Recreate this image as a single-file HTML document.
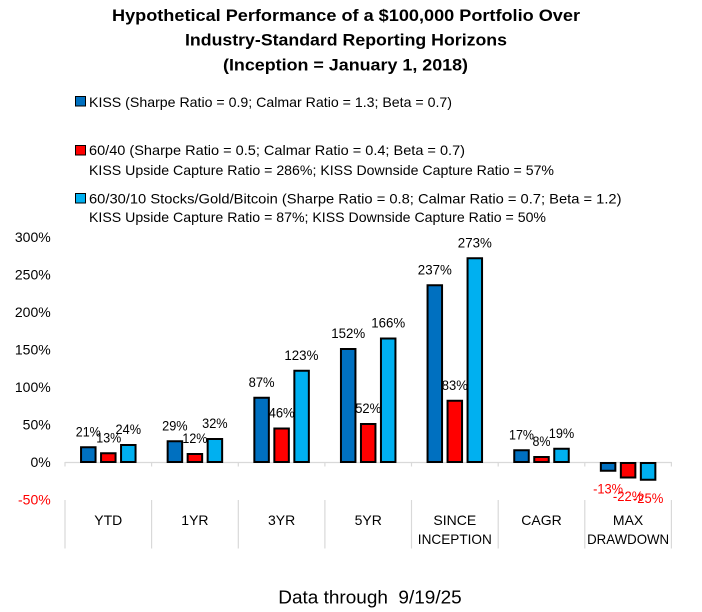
<!DOCTYPE html>
<html>
<head>
<meta charset="utf-8">
<style>
  html,body{margin:0;padding:0;background:#fff;}
  svg{display:block;}
  text{font-family:"Liberation Sans", sans-serif;fill:#000;}
</style>
</head>
<body>
<svg width="702" height="612" viewBox="0 0 702 612" xmlns="http://www.w3.org/2000/svg">
  <rect x="0" y="0" width="702" height="612" fill="#fff"/>

  <!-- Title -->
  <g font-weight="bold" font-size="17" text-anchor="middle">
    <text x="346" y="21" textLength="468" lengthAdjust="spacingAndGlyphs">Hypothetical Performance of a $100,000 Portfolio Over</text>
    <text x="346" y="45.5" textLength="322" lengthAdjust="spacingAndGlyphs">Industry-Standard Reporting Horizons</text>
    <text x="345.5" y="70.5" textLength="245" lengthAdjust="spacingAndGlyphs">(Inception = January 1, 2018)</text>
  </g>

  <!-- Legend -->
  <rect x="75.5" y="96.5" width="10" height="9.5" fill="#0070C0" stroke="#000" stroke-width="1"/>
  <rect x="75.5" y="145.5" width="10" height="9.5" fill="#FF0000" stroke="#000" stroke-width="1"/>
  <rect x="75.5" y="193.5" width="10" height="9.5" fill="#00B0F0" stroke="#000" stroke-width="1"/>
  <g font-size="14">
    <text x="89" y="107" textLength="363" lengthAdjust="spacingAndGlyphs">KISS (Sharpe Ratio = 0.9; Calmar Ratio = 1.3; Beta = 0.7)</text>
    <text x="89" y="155" textLength="376" lengthAdjust="spacingAndGlyphs">60/40 (Sharpe Ratio = 0.5; Calmar Ratio = 0.4; Beta = 0.7)</text>
    <text x="89" y="175" textLength="465" lengthAdjust="spacingAndGlyphs">KISS Upside Capture Ratio = 286%; KISS Downside Capture Ratio = 57%</text>
    <text x="89" y="203.3" textLength="532.5" lengthAdjust="spacingAndGlyphs">60/30/10 Stocks/Gold/Bitcoin (Sharpe Ratio = 0.8; Calmar Ratio = 0.7; Beta = 1.2)</text>
    <text x="89" y="222" textLength="457" lengthAdjust="spacingAndGlyphs">KISS Upside Capture Ratio = 87%; KISS Downside Capture Ratio = 50%</text>
  </g>

  <!-- Y axis labels -->
  <g font-size="14" text-anchor="end">
    <text x="50.7" y="242">300%</text>
    <text x="50.7" y="279.5">250%</text>
    <text x="50.7" y="317">200%</text>
    <text x="50.7" y="354.5">150%</text>
    <text x="50.7" y="392">100%</text>
    <text x="50.7" y="429.5">50%</text>
    <text x="50.7" y="467">0%</text>
    <text x="50.7" y="504.5" style="fill:#FF0000">-50%</text>
  </g>

  <!-- Axis lines -->
  <g stroke="#d9d9d9" stroke-width="1.2" fill="none">
    <line x1="65" y1="462.5" x2="671.7" y2="462.5"/>
    <line x1="65" y1="462" x2="65" y2="466.5"/>
    <line x1="151.6" y1="462" x2="151.6" y2="466.5"/>
    <line x1="238.3" y1="462" x2="238.3" y2="466.5"/>
    <line x1="324.9" y1="462" x2="324.9" y2="466.5"/>
    <line x1="411.5" y1="462" x2="411.5" y2="466.5"/>
    <line x1="498.2" y1="462" x2="498.2" y2="466.5"/>
    <line x1="584.8" y1="462" x2="584.8" y2="466.5"/>
    <line x1="671.4" y1="462" x2="671.4" y2="466.5"/>

    <line x1="65" y1="500" x2="65" y2="548.5"/>
    <line x1="151.6" y1="500" x2="151.6" y2="548.5"/>
    <line x1="238.3" y1="500" x2="238.3" y2="548.5"/>
    <line x1="324.9" y1="500" x2="324.9" y2="548.5"/>
    <line x1="411.5" y1="500" x2="411.5" y2="548.5"/>
    <line x1="498.2" y1="500" x2="498.2" y2="548.5"/>
    <line x1="584.8" y1="500" x2="584.8" y2="548.5"/>
    <line x1="671.4" y1="500" x2="671.4" y2="548.5"/>
  </g>

  <!-- Bars -->
  <g stroke="#000" stroke-width="2">
    <!-- YTD -->
    <rect x="81.05" y="447.25" width="14.5" height="14.75" fill="#0070C0"/>
    <rect x="101.05" y="453.25" width="14.5" height="8.75" fill="#FF0000"/>
    <rect x="121.05" y="445" width="14.5" height="17" fill="#00B0F0"/>
    <!-- 1YR -->
    <rect x="167.65" y="441.25" width="14.5" height="20.75" fill="#0070C0"/>
    <rect x="187.65" y="454" width="14.5" height="8" fill="#FF0000"/>
    <rect x="207.65" y="439" width="14.5" height="23" fill="#00B0F0"/>
    <!-- 3YR -->
    <rect x="254.35" y="397.75" width="14.5" height="64.25" fill="#0070C0"/>
    <rect x="274.35" y="428.5" width="14.5" height="33.5" fill="#FF0000"/>
    <rect x="294.35" y="370.75" width="14.5" height="91.25" fill="#00B0F0"/>
    <!-- 5YR -->
    <rect x="340.95" y="349" width="14.5" height="113" fill="#0070C0"/>
    <rect x="360.95" y="424" width="14.5" height="38" fill="#FF0000"/>
    <rect x="380.95" y="338.5" width="14.5" height="123.5" fill="#00B0F0"/>
    <!-- SINCE INCEPTION -->
    <rect x="427.55" y="285.25" width="14.5" height="176.75" fill="#0070C0"/>
    <rect x="447.55" y="400.75" width="14.5" height="61.25" fill="#FF0000"/>
    <rect x="467.55" y="258.25" width="14.5" height="203.75" fill="#00B0F0"/>
    <!-- CAGR -->
    <rect x="514.25" y="450.25" width="14.5" height="11.75" fill="#0070C0"/>
    <rect x="534.25" y="457" width="14.5" height="5" fill="#FF0000"/>
    <rect x="554.25" y="448.75" width="14.5" height="13.25" fill="#00B0F0"/>
    <!-- MAX DRAWDOWN -->
    <rect x="600.85" y="463" width="14.5" height="7.75" fill="#0070C0"/>
    <rect x="620.85" y="463" width="14.5" height="14.5" fill="#FF0000"/>
    <rect x="640.85" y="463" width="14.5" height="16.75" fill="#00B0F0"/>
  </g>

  <!-- Data labels -->
  <g font-size="14" text-anchor="middle">
    <text x="88.3" y="436.25" textLength="25" lengthAdjust="spacingAndGlyphs">21%</text>
    <text x="108.8" y="442.25" textLength="25" lengthAdjust="spacingAndGlyphs">13%</text>
    <text x="128.3" y="434" textLength="25.5" lengthAdjust="spacingAndGlyphs">24%</text>

    <text x="174.9" y="430.25" textLength="25.5" lengthAdjust="spacingAndGlyphs">29%</text>
    <text x="194.9" y="443" textLength="25" lengthAdjust="spacingAndGlyphs">12%</text>
    <text x="214.9" y="428" textLength="25.5" lengthAdjust="spacingAndGlyphs">32%</text>

    <text x="261.6" y="386.75" textLength="26" lengthAdjust="spacingAndGlyphs">87%</text>
    <text x="281.6" y="417.5" textLength="26" lengthAdjust="spacingAndGlyphs">46%</text>
    <text x="301.4" y="359.75" textLength="34" lengthAdjust="spacingAndGlyphs">123%</text>

    <text x="348.2" y="338" textLength="34" lengthAdjust="spacingAndGlyphs">152%</text>
    <text x="368.2" y="413" textLength="26" lengthAdjust="spacingAndGlyphs">52%</text>
    <text x="388.2" y="327.5" textLength="34" lengthAdjust="spacingAndGlyphs">166%</text>

    <text x="434.8" y="274.25" textLength="34" lengthAdjust="spacingAndGlyphs">237%</text>
    <text x="454.8" y="389.75" textLength="26" lengthAdjust="spacingAndGlyphs">83%</text>
    <text x="474.8" y="247.25" textLength="34" lengthAdjust="spacingAndGlyphs">273%</text>

    <text x="521.5" y="439.25" textLength="25" lengthAdjust="spacingAndGlyphs">17%</text>
    <text x="541.5" y="446" textLength="18" lengthAdjust="spacingAndGlyphs">8%</text>
    <text x="561.5" y="437.75" textLength="25.5" lengthAdjust="spacingAndGlyphs">19%</text>

    <text x="608.1" y="493.5" textLength="30" lengthAdjust="spacingAndGlyphs" style="fill:#FF0000">-13%</text>
    <text x="628.1" y="501" textLength="30.5" lengthAdjust="spacingAndGlyphs" style="fill:#FF0000">-22%</text>
    <text x="648.1" y="503" textLength="30.5" lengthAdjust="spacingAndGlyphs" style="fill:#FF0000">-25%</text>
  </g>

  <!-- Category labels -->
  <g font-size="14" text-anchor="middle">
    <text x="108.3" y="525">YTD</text>
    <text x="194.9" y="525">1YR</text>
    <text x="281.6" y="525">3YR</text>
    <text x="368.2" y="525">5YR</text>
    <text x="454.8" y="525">SINCE</text>
    <text x="454.8" y="544" textLength="74" lengthAdjust="spacingAndGlyphs">INCEPTION</text>
    <text x="541.5" y="525">CAGR</text>
    <text x="628.1" y="525">MAX</text>
    <text x="628.1" y="544" textLength="82" lengthAdjust="spacingAndGlyphs">DRAWDOWN</text>
  </g>

  <!-- Footer -->
  <text x="278.3" y="603.3" font-size="18" textLength="183.4" lengthAdjust="spacingAndGlyphs" style="white-space:pre">Data through  9/19/25</text>
</svg>
</body>
</html>
